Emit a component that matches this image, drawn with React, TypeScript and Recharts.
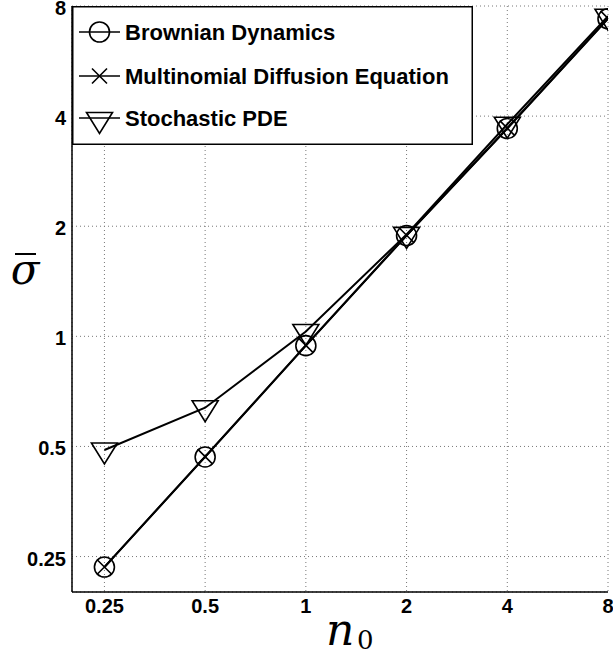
import React from 'react';
import { LineChart, Line, XAxis, YAxis, CartesianGrid, Legend, Label } from 'recharts';

const xValues = [0.25, 0.5, 1, 2, 4, 8];
const brownian = [0.234, 0.468, 0.943, 1.886, 3.7, 7.38];
const multinomial = [0.234, 0.469, 0.945, 1.89, 3.71, 7.4];
const spde = [0.489, 0.638, 1.031, 1.9, 3.8, 7.5];
const xTicks = [0.25, 0.5, 1, 2, 4, 8];
const yTicks = [0.25, 0.5, 1, 2, 4, 8];

const seriesInfo = [
  { key: 'brownian', name: 'Brownian Dynamics', marker: 'circle' },
  { key: 'multinomial', name: 'Multinomial Diffusion Equation', marker: 'cross' },
  { key: 'spde', name: 'Stochastic PDE', marker: 'tri' },
];

const data = xValues.map((x, i) => ({
  n0: x,
  brownian: brownian[i],
  multinomial: multinomial[i],
  spde: spde[i],
}));

const FONT = '"Liberation Sans", Arial, Helvetica, sans-serif';

function Marker({ type, cx, cy }: { type: string; cx: number; cy: number }) {
  const common = { fill: 'none', stroke: '#000', strokeWidth: 1.6 };
  if (type === 'circle') return <circle cx={cx} cy={cy} r={10} {...common} />;
  if (type === 'cross')
    return (
      <path
        d={`M${cx - 7.5},${cy - 7.5}L${cx + 7.5},${cy + 7.5}M${cx - 7.5},${cy + 7.5}L${cx + 7.5},${cy - 7.5}`}
        {...common}
      />
    );
  return <path d={`M${cx - 13},${cy - 7}L${cx + 13},${cy - 7}L${cx},${cy + 14}Z`} {...common} />;
}

const makeDot = (type: string) => (props: any) => {
  const { cx, cy, index } = props;
  if (cx == null || cy == null) return <g key={`${type}-${index}`} />;
  return (
    <g key={`${type}-${index}`}>
      <Marker type={type} cx={cx} cy={cy} />
    </g>
  );
};

function LegendBox(props: any) {
  const payload = props.payload || [];
  const rowsY = [26, 70, 112];
  return (
    <svg width={401} height={139} style={{ display: 'block' }}>
      <rect x={0.75} y={0.75} width={399.5} height={137.5} fill="#fff" stroke="#000" strokeWidth={1.5} />
      {payload.map((p: any, i: number) => {
        const info = seriesInfo.find((s) => s.key === p.dataKey) || seriesInfo[i];
        const y = rowsY[i];
        return (
          <g key={info.key}>
            <line x1={7} x2={48} y1={y} y2={y} stroke="#000" strokeWidth={1.6} />
            <Marker type={info.marker} cx={27.5} cy={info.marker === 'tri' ? y + 1.5 : y} />
            <text x={53} y={y + 8} fontFamily={FONT} fontWeight="bold" fontSize={22} fill="#000">
              {info.name}
            </text>
          </g>
        );
      })}
    </svg>
  );
}

const XTick = (props: any) => {
  const { x, y, payload } = props;
  return (
    <text x={x} y={y + 14} textAnchor="middle" fontFamily={FONT} fontWeight="bold" fontSize={20} fill="#000">
      {String(payload.value)}
    </text>
  );
};

const YTick = (props: any) => {
  const { x, y, payload } = props;
  return (
    <text x={x} y={y + 9} textAnchor="end" fontFamily={FONT} fontWeight="bold" fontSize={20} fill="#000">
      {String(payload.value)}
    </text>
  );
};

const XLabel = (props: any) => {
  const vb = props.viewBox || { x: 72, y: 592, width: 536 };
  const startX = vb.x + vb.width / 2 - 14;
  const base = vb.y + 53;
  return (
    <g>
      <text x={startX} y={base} fontFamily='"DejaVu Serif", serif' fontStyle="italic" fontSize={44} fill="#000">
        n
      </text>
      <text x={startX + 31} y={base + 4} fontFamily='"DejaVu Serif", serif' fontSize={26} fill="#000">
        0
      </text>
    </g>
  );
};

const YLabel = (props: any) => {
  const vb = props.viewBox || { x: 0, y: 6, width: 72, height: 586 };
  const cx = 25;
  const base = vb.y + vb.height / 2 - 15;
  return (
    <g>
      <text x={cx} y={base} textAnchor="middle" fontFamily='"DejaVu Serif", serif' fontStyle="italic" fontSize={42} fill="#000">
        σ
      </text>
      <line x1={cx - 10} x2={cx + 11} y1={base - 30} y2={base - 30} stroke="#000" strokeWidth={2} />
    </g>
  );
};

export default function App() {
  return (
    <div style={{ position: 'absolute', left: 0, top: 0, width: 613, height: 657, background: '#fff' }}>
      <LineChart width={613} height={657} data={data} margin={{ top: 6, right: 5, left: 0, bottom: 0 }}>
        <CartesianGrid stroke="#777" strokeDasharray="1 3" strokeWidth={1} />
        <XAxis
          dataKey="n0"
          type="number"
          scale="log"
          domain={[0.2, 8]}
          ticks={xTicks}
          interval={0}
          height={65}
          tickLine={false}
          tickSize={6}
          tickMargin={1}
          axisLine={{ stroke: '#000', strokeWidth: 1.5 }}
          tick={<XTick />}
          allowDataOverflow
        >
          <Label content={<XLabel />} />
        </XAxis>
        <YAxis
          type="number"
          scale="log"
          domain={[0.2, 8]}
          ticks={yTicks}
          interval={0}
          width={72}
          tickLine={false}
          tickSize={6}
          tickMargin={0}
          axisLine={{ stroke: '#000', strokeWidth: 1.5 }}
          tick={<YTick />}
          allowDataOverflow
        >
          <Label content={<YLabel />} />
        </YAxis>
        <Legend
          layout="horizontal"
          verticalAlign="middle"
          align="center"
          wrapperStyle={{ left: 72, top: 6, width: 401, height: 139 }}
          content={<LegendBox />}
        />
        <Line
          type="linear"
          dataKey="brownian"
          name="Brownian Dynamics"
          stroke="#000"
          strokeWidth={2}
          dot={makeDot('circle')}
          isAnimationActive={false}
        />
        <Line
          type="linear"
          dataKey="multinomial"
          name="Multinomial Diffusion Equation"
          stroke="#000"
          strokeWidth={2}
          dot={makeDot('cross')}
          isAnimationActive={false}
        />
        <Line
          type="linear"
          dataKey="spde"
          name="Stochastic PDE"
          stroke="#000"
          strokeWidth={2}
          dot={makeDot('tri')}
          isAnimationActive={false}
        />
      </LineChart>
    </div>
  );
}
